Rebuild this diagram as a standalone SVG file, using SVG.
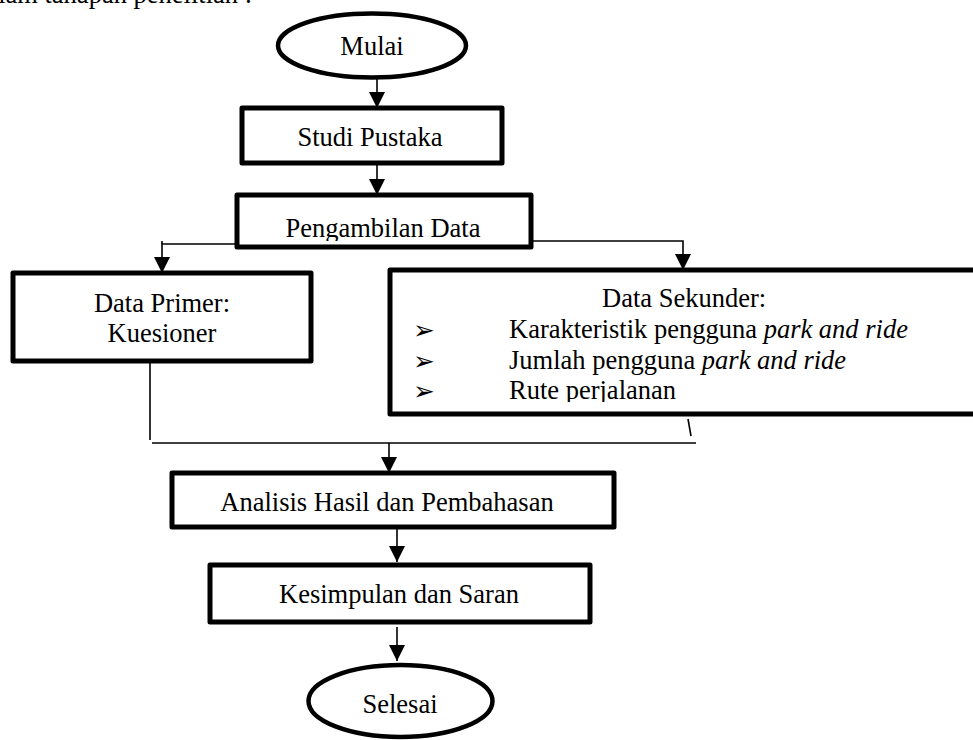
<svg xmlns="http://www.w3.org/2000/svg" width="973" height="740" viewBox="0 0 973 740">
<style>
text { font-family: "Liberation Serif", "Times New Roman", serif; font-size: 26.5px; fill: #000; }
.c { text-anchor: middle; }
.box { fill: #fff; stroke: #000; stroke-width: 5; stroke-linejoin: round; }
.term { fill: #fff; stroke: #000; stroke-width: 4.5; }
.ln { fill: none; stroke: #000; stroke-width: 1.6; }
.arr { fill: none; stroke: #000; stroke-width: 1.6; marker-end: url(#ah); }
.bul { font-family: "DejaVu Sans", sans-serif; font-size: 26px; }
.it { font-style: italic; }
</style>
<defs>
<marker id="ah" viewBox="0 0 16 16" refX="16" refY="8" markerWidth="16" markerHeight="16" markerUnits="userSpaceOnUse" orient="auto">
<path d="M0,0 L16,8 L0,16 z" fill="#000"/>
</marker>
<clipPath id="clipPeng"><rect x="237" y="195" width="294" height="46"/></clipPath>
<clipPath id="clipSek"><rect x="390" y="270" width="600" height="132"/></clipPath>
</defs>
<rect width="973" height="740" fill="#fff"/>
<text x="252" y="3" text-anchor="end">dalam tahapan penelitian :</text>

<g id="connectors">
<path class="arr" d="M377,78 V108"/>
<path class="arr" d="M377,163 V195"/>
<path class="arr" d="M237,244 H162 V273"/>
<path class="ln" d="M162,241 V244"/>
<path class="arr" d="M531,241 H683 V270"/>
<path class="ln" d="M150,361 V440"/>
<path class="ln" d="M152,443 H696"/>
<path class="ln" d="M688,419 L691,436"/>
<path class="arr" d="M389,443 V473"/>
<path class="arr" d="M397,529 V562"/>
<path class="arr" d="M397,627 V661"/>
</g>

<g id="mulai">
<ellipse class="term" cx="372" cy="45.5" rx="94" ry="32"/>
<text class="c" x="372" y="55">Mulai</text>
</g>

<g id="studi-pustaka">
<rect class="box" x="242" y="108" width="260" height="55"/>
<text class="c" x="370" y="146">Studi Pustaka</text>
</g>

<g id="pengambilan-data">
<rect class="box" x="237" y="195" width="294" height="52"/>
<text class="c" x="383" y="237" clip-path="url(#clipPeng)">Pengambilan Data</text>
</g>

<g id="data-primer">
<rect class="box" x="13" y="273" width="298" height="88"/>
<text class="c" x="162" y="312">Data Primer:</text>
<text class="c" x="162" y="342">Kuesioner</text>
</g>

<g id="data-sekunder">
<rect class="box" x="390" y="270" width="610" height="144"/>
<g clip-path="url(#clipSek)">
<text x="602" y="307">Data Sekunder:</text>
<text class="bul" x="413" y="339">➢</text>
<text class="bul" x="413" y="370">➢</text>
<text class="bul" x="413" y="400">➢</text>
<text x="509" y="338">Karakteristik pengguna <tspan class="it">park and ride</tspan></text>
<text x="509" y="369">Jumlah pengguna <tspan class="it">park and ride</tspan></text>
<text x="509" y="399">Rute perjalanan</text>
</g>
</g>

<g id="analisis">
<rect class="box" x="172" y="473" width="442" height="54"/>
<text class="c" x="387" y="511">Analisis Hasil dan Pembahasan</text>
</g>

<g id="kesimpulan">
<rect class="box" x="210" y="565" width="380" height="57"/>
<text class="c" x="399" y="603">Kesimpulan dan Saran</text>
</g>

<g id="selesai">
<ellipse class="term" cx="400.5" cy="701" rx="92" ry="36"/>
<text class="c" x="400" y="713">Selesai</text>
</g>
</svg>
